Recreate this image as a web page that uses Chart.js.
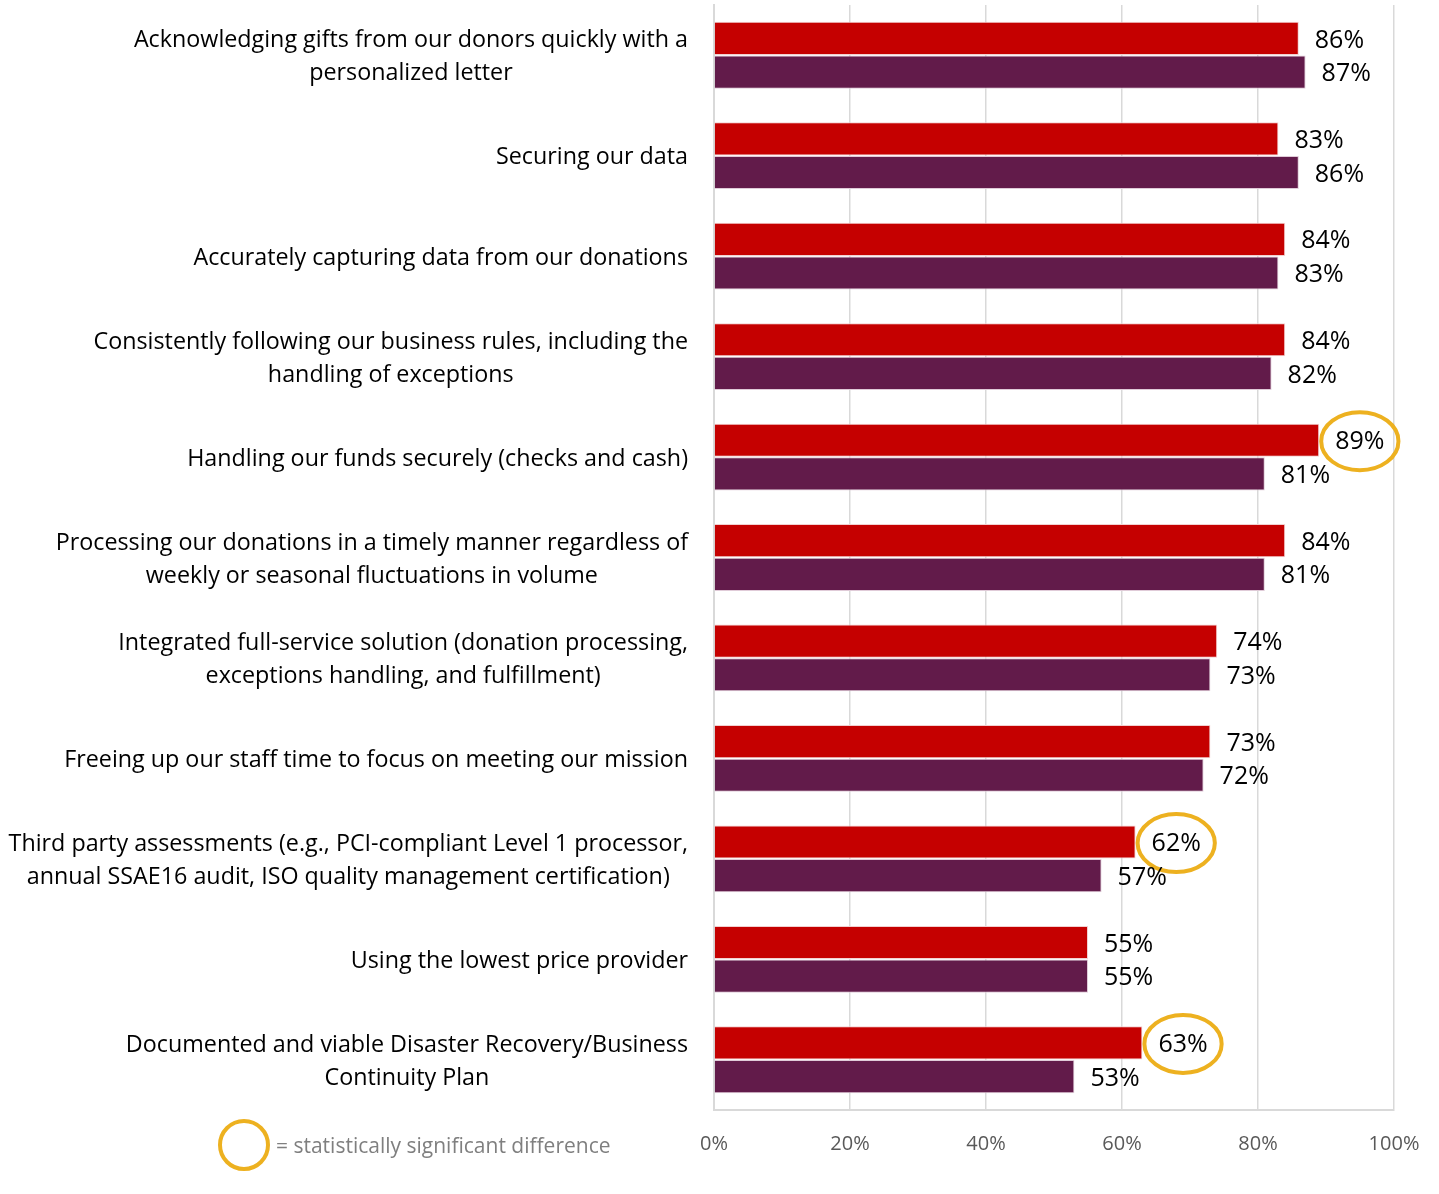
<!DOCTYPE html>
<html>
<head>
<meta charset="utf-8">
<script src="https://cdn.jsdelivr.net/npm/chart.js@4/dist/chart.umd.min.js"></script>
<style>
  html, body { margin: 0; padding: 0; background: #fff; }
  #wrap { position: relative; width: 1439px; height: 1194px; }
  #legend {
    position: absolute; left: 218px; top: 1119px;
    display: flex; align-items: center;
    font-family: 'Open Sans', sans-serif; font-size: 21px; color: #7f7f7f;
  }
  #legend .ring {
    width: 44px; height: 44px; border: 4px solid #EDB120; border-radius: 50%;
    margin-right: 6px;
  }
</style>
</head>
<body>
<div id="wrap">
  <canvas id="chart" width="1439" height="1194"></canvas>
  <div id="legend"><span class="ring"></span><span>= statistically significant difference</span></div>
</div>
<script>
/* ── Data ───────────────────────────────────────── */
const categories = [
  ['Acknowledging gifts from our donors quickly with a', 'personalized letter'],
  'Securing our data',
  'Accurately capturing data from our donations',
  ['Consistently following our business rules, including the', 'handling of exceptions'],
  'Handling our funds securely (checks and cash)',
  ['Processing our donations in a timely manner regardless of', 'weekly or seasonal fluctuations in volume'],
  ['Integrated full-service solution (donation processing,', 'exceptions handling, and fulfillment)'],
  'Freeing up our staff time to focus on meeting our mission',
  ['Third party assessments (e.g., PCI-compliant Level 1 processor,', 'annual SSAE16 audit, ISO quality management certification)'],
  'Using the lowest price provider',
  ['Documented and viable Disaster Recovery/Business', 'Continuity Plan']
];
const seriesA = [86, 83, 84, 84, 89, 84, 74, 73, 62, 55, 63];
const seriesB = [87, 86, 83, 82, 81, 81, 73, 72, 57, 55, 53];
const significant = [false, false, false, false, true, false, false, false, true, false, true];
const xTicks = [0, 20, 40, 60, 80, 100];

const RED = '#C50000';
const PLUM = '#621B4A';
const GOLD = '#EDB120';

/* ── Category labels: block right-aligned, lines centred (Excel style) ── */
const categoryLabels = {
  id: 'categoryLabels',
  afterDraw(chart) {
    const ctx = chart.ctx;
    const y = chart.scales.y;
    const right = y.right - 26;
    const lh = 33;
    ctx.save();
    ctx.font = '23.3px "Open Sans", sans-serif';
    ctx.fillStyle = '#000';
    ctx.textAlign = 'center';
    ctx.textBaseline = 'middle';
    categories.forEach((lab, i) => {
      const lines = Array.isArray(lab) ? lab : [lab];
      const w = Math.max(...lines.map(l => ctx.measureText(l).width));
      const cx = right - w / 2;
      const cy = y.getPixelForValue(i) + 2;
      lines.forEach((l, k) => {
        ctx.fillText(l, cx, cy + (k - (lines.length - 1) / 2) * lh);
      });
    });
    ctx.restore();
  }
};

/* ── Value labels + significance rings ──────────── */
const valueLabels = {
  id: 'valueLabels',
  afterDatasetsDraw(chart) {
    const ctx = chart.ctx;
    ctx.save();
    ctx.font = '25px "Open Sans", sans-serif';
    ctx.fillStyle = '#000';
    ctx.textBaseline = 'middle';
    ctx.textAlign = 'left';
    chart.data.datasets.forEach((ds, di) => {
      chart.getDatasetMeta(di).data.forEach((bar, i) => {
        const txt = ds.data[i] + '%';
        const x = bar.x + 16;
        ctx.fillText(txt, x, bar.y + 2);
        if (di === 0 && significant[i]) {
          const w = ctx.measureText(txt).width;
          ctx.strokeStyle = GOLD;
          ctx.lineWidth = 4;
          ctx.beginPath();
          ctx.ellipse(x + w / 2, bar.y + 1, w / 2 + 14, 29, 0, 0, Math.PI * 2);
          ctx.stroke();
        }
      });
    });
    ctx.restore();
  }
};

new Chart(document.getElementById('chart'), {
  type: 'bar',
  data: {
    labels: categories,
    datasets: [
      { data: seriesA, backgroundColor: RED, borderColor: '#f2d0d0', borderWidth: 1,
        categoryPercentage: 0.67, barPercentage: 0.985 },
      { data: seriesB, backgroundColor: PLUM, borderColor: '#e0cbd8', borderWidth: 1,
        categoryPercentage: 0.67, barPercentage: 0.985 }
    ]
  },
  options: {
    indexAxis: 'y',
    responsive: false,
    animation: false,
    layout: { padding: { top: 5, right: 45, left: 0, bottom: 0 } },
    plugins: { legend: { display: false }, tooltip: { enabled: false } },
    scales: {
      x: {
        min: 0, max: 100,
        afterBuildTicks(scale) { scale.ticks = xTicks.map(v => ({ value: v })); },
        afterFit(scale) { scale.height = 84; scale.paddingLeft = 0; scale.paddingRight = 0; },
        grid: { color: '#d9d9d9', lineWidth: 1.5, drawTicks: false },
        border: { display: true, color: '#d9d9d9', width: 2 },
        ticks: {
          color: '#595959', padding: 22,
          font: { family: 'Open Sans', size: 20 },
          callback: v => v + '%'
        }
      },
      y: {
        afterFit(scale) { scale.width = 714; scale.paddingTop = 0; scale.paddingBottom = 0; },
        grid: { display: false },
        border: { display: true, color: '#d9d9d9', width: 2 },
        ticks: { display: false }
      }
    }
  },
  plugins: [valueLabels, categoryLabels]
});
</script>
</body>
</html>
